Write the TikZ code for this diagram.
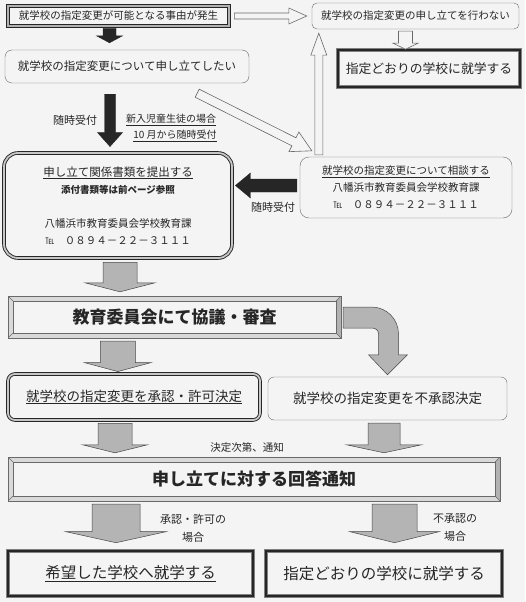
\documentclass[tikz,border=0pt]{standalone}
\usepackage{fontspec}
\setmainfont{Noto Sans CJK JP}
\usepackage{tikz}
\usetikzlibrary{calc}
\definecolor{paper}{RGB}{244,244,244}
\definecolor{ink}{RGB}{38,38,38}
\definecolor{frame}{RGB}{105,105,105}
\definecolor{arrowgray}{RGB}{180,180,180}

\newcommand{\fs}[1]{\fontsize{#1}{#1}\selectfont}
% style, from, to, half body, half head, head length
\newcommand{\blockarrow}[6]{%
  \coordinate (ba-s) at (#2);
  \coordinate (ba-e) at (#3);
  \coordinate (ba-h) at ($(ba-e)!#6!(ba-s)$);
  \path[#1] ($(ba-s)!#4!90:(ba-e)$) -- ($(ba-h)!#4!90:(ba-e)$) -- ($(ba-h)!#5!90:(ba-e)$)
    -- (ba-e) -- ($(ba-h)!#5!-90:(ba-e)$) -- ($(ba-h)!#4!-90:(ba-e)$) -- ($(ba-s)!#4!-90:(ba-e)$) -- cycle;
}

\begin{document}
\begin{tikzpicture}[x=1pt, y=-1pt,
  box/.style={draw=frame, fill=paper, rounded corners=5pt, inner sep=0pt, text=ink},
  edgebox/.style={draw=ink, line width=0.6pt, double=gray!60, double distance=2pt, fill=paper, inner sep=0pt, text=ink},
  ringbox/.style={draw=ink, line width=0.9pt, double=gray!45, double distance=1.8pt, fill=paper, inner sep=0pt, text=ink},
  heavybox/.style={draw=gray, line width=0.6pt, double=ink, double distance=2.6pt, fill=paper, inner sep=0pt, text=ink},
  bevelbox/.style={draw=frame, fill=paper, inner sep=0pt, text=ink, font=\bfseries\fs{17},
    path picture={
      \coordinate (pnw) at (path picture bounding box.north west);
      \coordinate (pse) at (path picture bounding box.south east);
      \fill[gray!30] (pnw) rectangle (pse);
      \fill[gray!60] (pnw -| pse) -- ++(-5,5) -- ($(pse)+(-5,-5)$) -- (pse) -- cycle;
      \draw[frame, fill=paper] ($(pnw)+(5,5)$) rectangle ($(pse)+(-5,-5)$);
      \draw[frame] (pnw) -- ++(5,5) (pse) -- ++(-5,-5) (pnw -| pse) -- ++(-5,5) (pnw |- pse) -- ++(5,-5);
    }},
  lbl/.style={text=ink, inner sep=1pt, align=center},
  hollow/.style={draw=frame, fill=paper, line width=0.6pt},
  solid/.style={draw=ink, fill=ink},
  grayarrow/.style={draw=gray!55!black, fill=arrowgray, line width=0.5pt}]
  \useasboundingbox (0,0) rectangle (525,602);
  \fill[paper] (0,0) rectangle (525,602);

  % boxes
  \node[edgebox, minimum width=221pt, minimum height=20pt, font=\fs{10.5}] (A) at (118.5,16) {就学校の指定変更が可能となる事由が発生};
  \node[box, minimum width=207pt, minimum height=26pt, font=\fs{10.5}] (B) at (415.5,16) {就学校の指定変更の申し立てを行わない};
  \node[heavybox, minimum width=182pt, minimum height=37pt, font=\fs{12.8}] (C) at (429,68.5) {指定どおりの学校に就学する};
  \node[box, rounded corners=7pt, minimum width=244pt, minimum height=33pt, font=\fs{11.5}] (D) at (127,66.5) {就学校の指定変更について申し立てしたい};
  \node[box, rounded corners=9pt, minimum width=212pt, minimum height=61pt, align=center, font=\fontsize{10.5}{17}\selectfont] (E) at (406,187.5)
    {\underline{就学校の指定変更について相談する}\\八幡浜市教育委員会学校教育課\\{\fs{9}℡}\quad ０８９４－２２－３１１１};
  \node[ringbox, rounded corners=14pt, minimum width=228pt, minimum height=105pt, align=center, font=\fontsize{11.5}{17}\selectfont] (F) at (118,205.5)
    {\underline{申し立て関係書類を提出する}\\{\bfseries\fs{9.5}添付書類等は前ページ参照}\\[17pt]{\fs{10.5}八幡浜市教育委員会学校教育課}\\{\fs{10.5}{\fs{9}℡}\quad ０８９４－２２－３１１１}};
  \node[bevelbox, minimum width=333pt, minimum height=42pt] (G) at (174.5,317) {教育委員会にて協議・審査};
  \node[ringbox, rounded corners=7pt, minimum width=252pt, minimum height=46pt, font=\fs{13.5}] (H) at (134,397) {\underline{就学校の指定変更を承認・許可決定}};
  \node[box, rounded corners=6pt, minimum width=239pt, minimum height=43pt, font=\fs{13.5}] (I) at (387.5,398.5) {就学校の指定変更を不承認決定};
  \node[bevelbox, minimum width=492pt, minimum height=44pt] (J) at (254,479) {申し立てに対する回答通知};
  \node[heavybox, minimum width=245pt, minimum height=45pt, font=\fs{15.5}] (K) at (130.5,573.5) {\underline{希望した学校へ就学する}};
  \node[heavybox, minimum width=236pt, minimum height=45pt, font=\fs{15.5}] (L) at (384,573.5) {指定どおりの学校に就学する};

  % labels
  \node[lbl, font=\fs{11}] (l1) at (75,120) {随時受付};
  \node[lbl, font=\fs{10}] (l2) at (171,120) {\underline{新入児童生徒の場合}};
  \node[lbl, font=\fs{10}] (l3) at (175,136) {\underline{10 月から随時受付}};
  \node[lbl, font=\fs{11}] (l4) at (273,207) {随時受付};
  \node[lbl, font=\fs{10.5}] (l5) at (247,448) {決定次第、通知};
  \node[lbl, font=\fontsize{11}{18}\selectfont] (l6) at (193,528) {承認・許可の\\場合};
  \node[lbl, font=\fontsize{11}{18}\selectfont] (l7) at (455,528) {不承認の\\場合};

  % hollow arrows
  \coordinate (a1) at ($(A.east)+(5,0)$);
  \coordinate (a2) at ($(B.west)+(-5,0)$);
  \blockarrow{hollow}{a1}{a2}{3pt}{8pt}{18pt}
  \coordinate (b1) at ($(B.south)+(-10,2)$);
  \coordinate (b2) at ($(B.south)+(-10,20)$);
  \blockarrow{hollow}{b1}{b2}{7pt}{12.5pt}{6pt}
  \coordinate (d1) at ($(D.south east)+(-52,10)$);
  \coordinate (d2) at ($(E.north west)+(12,-6)$);
  \blockarrow{hollow}{d1}{d2}{4.5pt}{11pt}{20pt}
  \coordinate (e1) at ($(E.north west)+(19,-2)$);
  \coordinate (e2) at ($(e1 |- B.south)+(0,4)$);
  \blockarrow{hollow}{e1}{e2}{4pt}{8pt}{22pt}

  % black arrows
  \coordinate (a3) at ($(A.south)+(-9,2)$);
  \coordinate (a4) at ($(a3 |- D.north)+(0,-7)$);
  \blockarrow{solid}{a3}{a4}{6.5pt}{13pt}{7pt}
  \coordinate (d3) at ($(D.south)+(-17,11)$);
  \coordinate (d4) at ($(d3 |- F.north)+(0,-6)$);
  \blockarrow{solid}{d3}{d4}{5.5pt}{12.5pt}{14pt}
  \coordinate (e3) at ($(E.west)+(-3,-2)$);
  \coordinate (e4) at ($(e3 -| F.east)+(3,0)$);
  \blockarrow{solid}{e3}{e4}{6.5pt}{12.5pt}{15pt}

  % gray arrows
  \coordinate (f1) at ($(F.south)+(2,4)$);
  \coordinate (f2) at ($(f1 |- G.north)+(0,-4)$);
  \blockarrow{grayarrow}{f1}{f2}{17pt}{35pt}{9pt}
  \coordinate (g1) at ($(G.south west)+(110,3)$);
  \coordinate (g2) at ($(g1 |- H.north)+(0,-2)$);
  \blockarrow{grayarrow}{g1}{g2}{17.5pt}{33.5pt}{9pt}
  \coordinate (h1) at ($(H.south)+(-19,3)$);
  \coordinate (h2) at ($(h1 |- J.north)+(0,-4)$);
  \blockarrow{grayarrow}{h1}{h2}{17pt}{32.5pt}{8pt}
  \coordinate (i1) at ($(I.south)+(-3.5,3)$);
  \coordinate (i2) at ($(i1 |- J.north)+(0,-4)$);
  \blockarrow{grayarrow}{i1}{i2}{16pt}{37.5pt}{8pt}
  \coordinate (j1) at ($(J.south)+(-138,3)$);
  \coordinate (j2) at ($(j1 |- K.north)+(0,-8)$);
  \blockarrow{grayarrow}{j1}{j2}{24pt}{50pt}{11pt}
  \coordinate (j3) at ($(J.south)+(140.5,3)$);
  \coordinate (j4) at ($(j3 |- L.north)+(0,-8)$);
  \blockarrow{grayarrow}{j3}{j4}{22.5pt}{44.5pt}{11pt}
  % bent arrow from G to I
  \path[grayarrow] let \p1=(G.east), \p2=(I.north) in
    (\x1+2pt,\y1+10pt) -- (\x2-16pt,\y1+10pt) .. controls (\x2-1pt,\y1+10pt) and (\x2+11pt,\y1-2pt) .. (\x2+11pt,\y1-17pt)
    -- (\x2+11pt,\y2+22pt) -- (\x2+20pt,\y2+22pt) -- (\x2,\y2+2pt) -- (\x2-19pt,\y2+22pt) -- (\x2-9pt,\y2+22pt)
    -- (\x2-9pt,\y1-17pt) .. controls (\x2-9pt,\y1-13pt) and (\x2-12pt,\y1-11pt) .. (\x2-16pt,\y1-11pt) -- (\x1+2pt,\y1-11pt) -- cycle;
\end{tikzpicture}
\end{document}
